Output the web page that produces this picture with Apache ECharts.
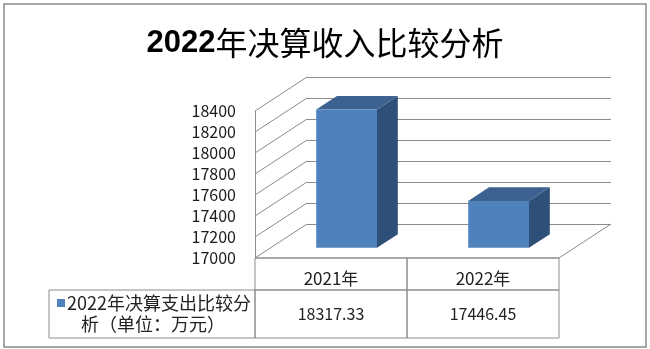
<!DOCTYPE html>
<html><head><meta charset="utf-8">
<script src="https://cdn.jsdelivr.net/npm/echarts@6/dist/echarts.min.js"></script>
<style>html,body{margin:0;padding:0;background:#fff}#c{width:650px;height:349px}</style>
</head><body><div id="c"></div>
<script>
const titleYear = '2022';
const titleRest = '年决算收入比较分析';
const categories = ['2021年', '2022年'];
const values = [18317.33, 17446.45];
const valueLabels = ['18317.33', '17446.45'];
const legendLines = ['2022年决算支出比较分', '析（单位：万元）'];
const yTicks = [17000, 17200, 17400, 17600, 17800, 18000, 18200, 18400];
const yMin = 17000, yMax = 18400, yStep = 200;

const DX = 52, DY = -34;          // depth offset of the back wall
const F1 = 0.3, F2 = 0.7;         // bar depth range
const GRID_COLOR = '#8c8c8c';
const FRONT = '#4F81BD', TOPC = '#3B6290', SIDE = '#2E4F78';
const CJK = '"Noto Sans CJK SC", "Noto Sans", sans-serif';

const chart = echarts.init(document.getElementById('c'), null, {renderer: 'canvas'});

const option = {
  backgroundColor: '#fff',
  animation: false,
  title: {
    left: 'center', top: 22,
    text: '{b|' + titleYear + '}{n|' + titleRest + '}',
    textStyle: {
      fontWeight: 'normal',
      rich: {
        b: {fontFamily: '"Liberation Sans", Arial, sans-serif', fontWeight: 'bold', fontSize: 31, color: '#000'},
        n: {fontFamily: CJK, fontWeight: 'normal', fontSize: 32, color: '#000'}
      }
    }
  },
  grid: [
    {left: 255, right: 91, top: 111, bottom: 91},
    {left: 255 + DX, right: 91 - DX, top: 111 + DY, bottom: 91 - DY}
  ],
  xAxis: [
    {type: 'category', data: categories, gridIndex: 0, show: false},
    {type: 'category', data: categories, gridIndex: 1, show: false}
  ],
  yAxis: [
    {type: 'value', gridIndex: 0, min: yMin, max: yMax, interval: yStep,
     axisLine: {show: true, lineStyle: {color: GRID_COLOR}}, axisTick: {show: false},
     splitLine: {show: false},
     axisLabel: {margin: 19, color: '#1a1a1a', fontFamily: CJK, fontSize: 16, padding: [5, 0, 0, 0],
                 formatter: function (v) { return String(v); }}},
    {type: 'value', gridIndex: 1, min: yMin, max: yMax, interval: yStep,
     axisLine: {show: false}, axisTick: {show: false}, axisLabel: {show: false},
     splitLine: {show: true, lineStyle: {color: GRID_COLOR, width: 1}}}
  ],
  graphic: [
    {type: 'rect', shape: {x: 4, y: 4, width: 642, height: 343},
     style: {fill: null, stroke: '#8a8a8a', lineWidth: 1.5}, z: 100},
    {type: 'rect', shape: {x: 49, y: 290, width: 206, height: 48},
     style: {fill: null, stroke: GRID_COLOR, lineWidth: 1}, z: 50},
    {type: 'rect', shape: {x: 57, y: 299, width: 8, height: 8},
     style: {fill: FRONT}, z: 50},
    {type: 'text', x: 67, y: 303,
     style: {text: legendLines[0], font: '18px ' + CJK, fill: '#222', textAlign: 'left', textVerticalAlign: 'middle'}, z: 50},
    {type: 'text', x: 153, y: 324,
     style: {text: legendLines[1], font: '18px ' + CJK, fill: '#222', textAlign: 'center', textVerticalAlign: 'middle'}, z: 50}
  ],
  series: [
    {
      type: 'custom', xAxisIndex: 0, yAxisIndex: 0, z: 1, silent: true,
      data: yTicks.map(v => [0, v]),
      renderItem: function (params, api) {
        const cs = params.coordSys;
        const v = api.value(1);
        const y = api.coord([0, v])[1];
        const xL = cs.x, xR = cs.x + cs.width;
        const children = [{
          type: 'line', shape: {x1: xL, y1: y, x2: xL + DX, y2: y + DY},
          style: {stroke: GRID_COLOR, lineWidth: 1}
        }];
        if (v === yMin) {
          children.push({type: 'line', shape: {x1: xL, y1: y, x2: xR, y2: y},
            style: {stroke: GRID_COLOR, lineWidth: 1}});
          children.push({type: 'line', shape: {x1: xR, y1: y, x2: xR + DX, y2: y + DY},
            style: {stroke: GRID_COLOR, lineWidth: 1}});
        }
        return {type: 'group', children: children};
      }
    },
    {
      type: 'custom', xAxisIndex: 0, yAxisIndex: 0, z: 5, name: legendLines.join(''),
      data: values.map((v, i) => [i, v]),
      renderItem: function (params, api) {
        const c = api.value(0), v = api.value(1);
        const top = api.coord([c, v]);
        const base = api.coord([c, yMin]);
        const bw = api.size([1, 0])[0] * 0.4;
        const x0 = top[0] - bw / 2 + F1 * DX, x1 = x0 + bw;
        const yT = top[1] + F1 * DY, yB = base[1] + F1 * DY;
        const ddx = (F2 - F1) * DX, ddy = (F2 - F1) * DY;
        return {type: 'group', children: [
          {type: 'polygon', shape: {points: [[x1, yT], [x1 + ddx, yT + ddy], [x1 + ddx, yB + ddy], [x1, yB]]},
           style: {fill: SIDE}},
          {type: 'polygon', shape: {points: [[x0, yT], [x1, yT], [x1 + ddx, yT + ddy], [x0 + ddx, yT + ddy]]},
           style: {fill: TOPC}},
          {type: 'rect', shape: {x: x0, y: yT, width: bw, height: yB - yT},
           style: {fill: FRONT}}
        ]};
      }
    },
    {
      type: 'custom', xAxisIndex: 0, yAxisIndex: 0, z: 6, silent: true,
      data: categories.map((c, i) => [i, values[i]]),
      renderItem: function (params, api) {
        const i = api.value(0);
        const cx = api.coord([i, yMin])[0];
        const y0 = api.coord([i, yMin])[1];
        const w = api.size([1, 0])[0];
        const xL = cx - w / 2;
        const h1 = 32, h2 = 48;
        return {type: 'group', children: [
          {type: 'rect', shape: {x: xL, y: y0, width: w, height: h1},
           style: {fill: null, stroke: GRID_COLOR, lineWidth: 1}},
          {type: 'rect', shape: {x: xL, y: y0 + h1, width: w, height: h2},
           style: {fill: null, stroke: GRID_COLOR, lineWidth: 1}},
          {type: 'text', x: cx, y: y0 + 21,
           style: {text: categories[i], font: '17px ' + CJK, fill: '#222', textAlign: 'center', textVerticalAlign: 'middle'}},
          {type: 'text', x: cx, y: y0 + h1 + 24,
           style: {text: valueLabels[i], font: '16px ' + CJK, fill: '#222', textAlign: 'center', textVerticalAlign: 'middle'}}
        ]};
      }
    }
  ]
};
chart.setOption(option);
</script>
</body></html>
